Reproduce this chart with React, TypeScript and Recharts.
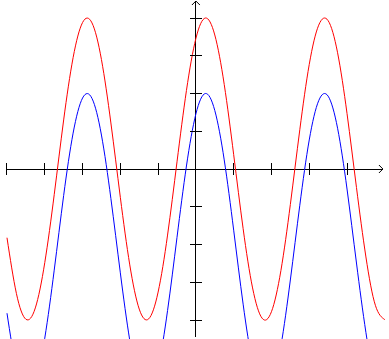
import { LineChart, Line, XAxis, YAxis, ReferenceLine, ReferenceDot } from "recharts"

const xValues = [
  -5, -4.75, -4.5, -4.25, -4, -3.75, -3.5, -3.25, -3, -2.75, -2.5, -2.25, -2, -1.75, -1.5, -1.25, -1, -0.75, -0.5, -0.25,
  0, 0.25, 0.5, 0.75, 1, 1.25, 1.5, 1.75, 2, 2.25, 2.5, 2.75, 3, 3.25, 3.5, 3.75, 4, 4.25, 4.5, 4.75, 5,
]
const redValues = [
  -1.82, -3.3, -3.98, -3.68, -2.48, -0.68, 1.3, 2.95, 3.88, 3.87, 2.9, 1.22, -0.75, -2.54, -3.71, -3.97, -3.26, -1.75, 0.19, 2.08,
  3.46, 4.0, 3.55, 2.24, 0.38, -1.58, -3.15, -3.95, -3.78, -2.69, -0.94, 1.04, 2.77, 3.81, 3.93, 3.08, 1.47, -0.49, -2.33, -3.61, -3.99,
]
const blueValues = [
  -3.82, -5.3, -5.98, -5.68, -4.48, -2.68, -0.7, 0.95, 1.88, 1.87, 0.9, -0.78, -2.75, -4.54, -5.71, -5.97, -5.26, -3.75, -1.81, 0.08,
  1.46, 2.0, 1.55, 0.24, -1.62, -3.58, -5.15, -5.95, -5.78, -4.69, -2.94, -0.96, 0.77, 1.81, 1.93, 1.08, -0.53, -2.49, -4.33, -5.61, -5.99,
]
const xTicks = [-5, -4, -3, -2, -1, 1, 2, 3, 4]
const yTicks = [-4, -3, -2, -1, 1, 2, 3, 4]

const data = xValues.map((x, i) => ({ x, red: redValues[i], blue: blueValues[i] }))

const XTick = (p: any) => (
  <line x1={p.cx} y1={p.cy - 6} x2={p.cx} y2={p.cy + 6} stroke="#000" shapeRendering="crispEdges" />
)
const YTick = (p: any) => (
  <line x1={p.cx - 6} y1={p.cy} x2={p.cx + 6} y2={p.cy} stroke="#000" shapeRendering="crispEdges" />
)
const RightArrow = (p: any) => (
  <polyline points={`${p.cx - 4},${p.cy - 4} ${p.cx},${p.cy} ${p.cx - 4},${p.cy + 4}`} fill="none" stroke="#000" />
)
const UpArrow = (p: any) => (
  <polyline points={`${p.cx - 4},${p.cy + 4} ${p.cx},${p.cy} ${p.cx + 4},${p.cy + 4}`} fill="none" stroke="#000" />
)

export default function App() {
  return (
    <div style={{ position: "absolute", left: 0, top: 0, width: 389, height: 339, background: "#fff" }}>
      <LineChart width={389} height={339} data={data} margin={{ top: 0, right: 0, bottom: 0, left: 0 }}>
        <XAxis type="number" dataKey="x" domain={[-5.185, 5.111]} allowDataOverflow hide />
        <YAxis type="number" domain={[-4.503, 4.477]} allowDataOverflow hide />
        <ReferenceLine segment={[{ x: -5, y: 0 }, { x: 4.95, y: 0 }]} stroke="#000" shapeRendering="crispEdges" />
        <ReferenceLine segment={[{ x: 0, y: -4.45 }, { x: 0, y: 4.45 }]} stroke="#000" shapeRendering="crispEdges" />
        {xTicks.map((t) => (
          <ReferenceDot key={`x${t}`} x={t} y={0} shape={XTick} />
        ))}
        {yTicks.map((t) => (
          <ReferenceDot key={`y${t}`} x={0} y={t} shape={YTick} />
        ))}
        <ReferenceDot x={4.95} y={0} shape={RightArrow} />
        <ReferenceDot x={0} y={4.45} shape={UpArrow} />
        <Line type="natural" dataKey="red" stroke="#ff0000" strokeWidth={1} dot={false} activeDot={false} isAnimationActive={false} />
        <Line type="natural" dataKey="blue" stroke="#0000ff" strokeWidth={1} dot={false} activeDot={false} isAnimationActive={false} />
      </LineChart>
    </div>
  )
}
